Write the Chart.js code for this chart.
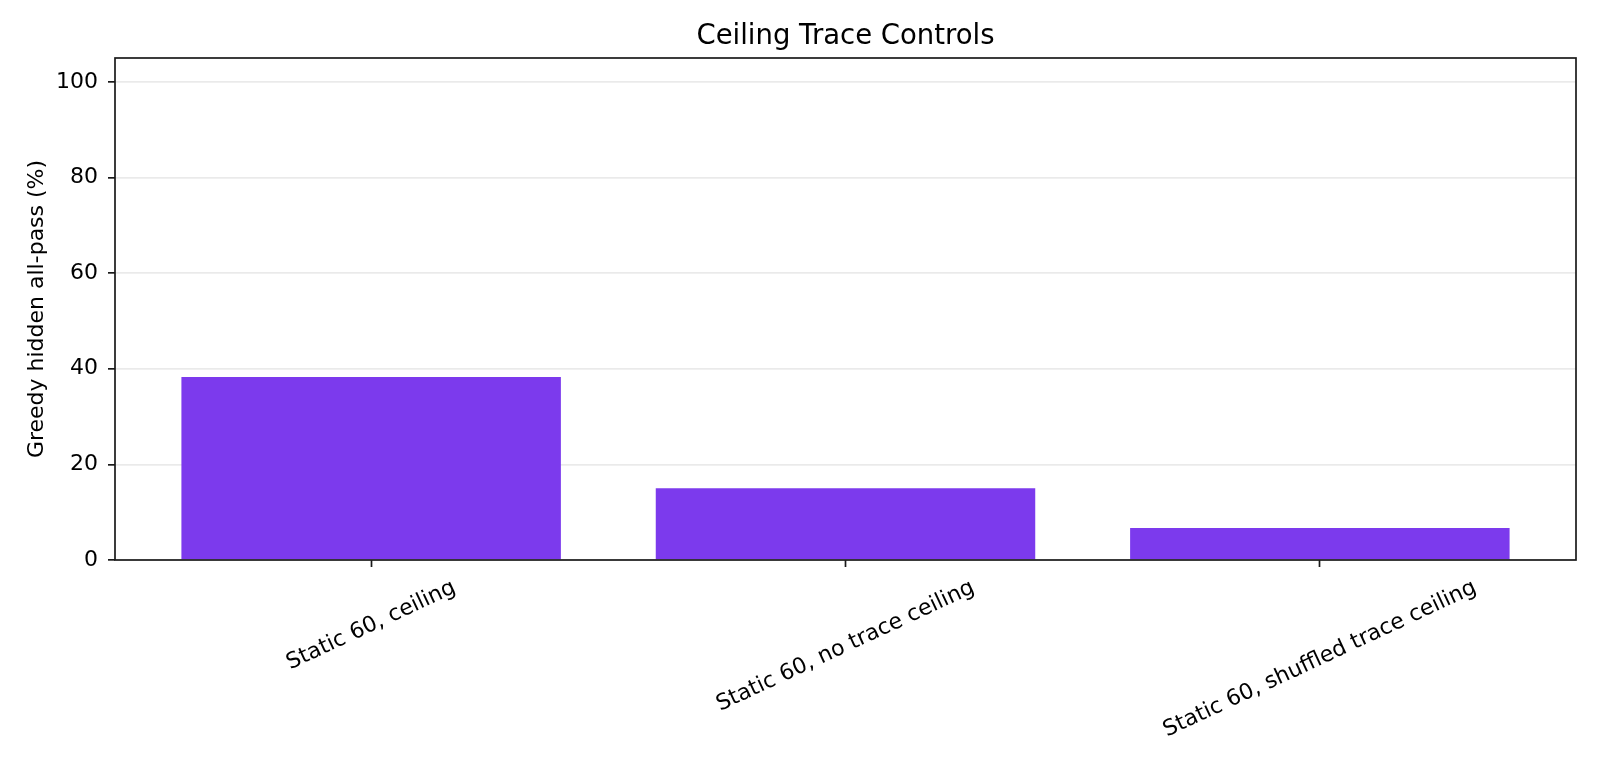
<!DOCTYPE html>
<html>
<head>
<meta charset="utf-8">
<script src="https://cdn.jsdelivr.net/npm/chart.js@4"></script>
<style>
  body { margin: 0; background: #fff; }
  #wrap { width: 1600px; height: 768px; }
</style>
</head>
<body>
<div id="wrap"><canvas id="mycanvas"></canvas></div>
<script>
// chart values
var categories = ["Static 60, ceiling", "Static 60, no trace ceiling", "Static 60, shuffled trace ceiling"];
var passRates = [38.3, 15.0, 6.7];
var yTicks = [0, 20, 40, 60, 80, 100];

var FONT = '"DejaVu Sans", sans-serif';
var TICK_SIZE = 22;

// matplotlib style frame around the plot area
var framePlugin = {
    id: 'frame',
    afterDraw: function(chart) {
        var a = chart.chartArea, ctx = chart.ctx;
        ctx.save();
        ctx.strokeStyle = '#1a1a1a';
        ctx.lineWidth = 1.7;
        ctx.strokeRect(a.left, a.top, a.right - a.left, a.bottom - a.top);
        ctx.restore();
    }
};

// rotated x labels, centred under their ticks
var xLabelPlugin = {
    id: 'xLabels',
    afterDraw: function(chart) {
        var xs = chart.scales.x, ctx = chart.ctx;
        var ang = 25 * Math.PI / 180;
        ctx.save();
        ctx.font = TICK_SIZE + 'px ' + FONT;
        ctx.fillStyle = '#000';
        ctx.textAlign = 'center';
        ctx.textBaseline = 'middle';
        categories.forEach(function(label, i) {
            var px = xs.getPixelForValue(i);
            var w = ctx.measureText(label).width;
            var h = TICK_SIZE * 1.17;
            var bh = w * Math.sin(ang) + h * Math.cos(ang);
            var cy = chart.chartArea.bottom + 15 + bh / 2;
            ctx.save();
            ctx.translate(px, cy);
            ctx.rotate(-ang);
            ctx.fillText(label, 0, 0);
            ctx.restore();
        });
        ctx.restore();
    }
};

var ctx = document.getElementById('mycanvas');
var myChart = new Chart(ctx, {
    type: 'bar',
    data: {
        datasets: [{
            label: 'Greedy hidden all-pass (%)',
            data: categories.map(function(c, i) { return { x: i, y: passRates[i] }; }),
            backgroundColor: '#7c3aed',
            borderWidth: 0,
            categoryPercentage: 0.8,
            barPercentage: 1.0
        }]
    },
    options: {
        responsive: true,
        maintainAspectRatio: false,
        animation: false,
        layout: { padding: { left: 0, right: 24, top: 0, bottom: 0 } },
        plugins: {
            legend: { display: false },
            tooltip: { enabled: false },
            title: {
                display: true,
                fullSize: false,
                text: 'Ceiling Trace Controls',
                color: '#000',
                font: { family: FONT, size: 27.5, weight: 'normal' },
                padding: { top: 20, bottom: 5 }
            }
        },
        scales: {
            x: {
                type: 'linear',
                min: -0.54,
                max: 2.54,
                offset: false,
                afterBuildTicks: function(scale) {
                    scale.ticks = categories.map(function(c, i) { return { value: i }; });
                },
                afterFit: function(scale) { scale.height = 208; },
                ticks: { display: false },
                grid: {
                    offset: false,
                    drawOnChartArea: false,
                    drawTicks: true,
                    tickLength: 7,
                    tickColor: '#1a1a1a',
                    tickWidth: 1.7
                },
                border: { display: false }
            },
            y: {
                min: 0,
                max: 105,
                z: 1,
                afterBuildTicks: function(scale) {
                    scale.ticks = yTicks.map(function(v) { return { value: v }; });
                },
                afterFit: function(scale) { scale.width = 115; },
                ticks: {
                    color: '#000',
                    font: { family: FONT, size: TICK_SIZE },
                    padding: 10
                },
                grid: {
                    color: 'rgba(176,176,176,0.27)',
                    lineWidth: 1.7,
                    tickLength: 7,
                    tickColor: '#1a1a1a',
                    tickWidth: 1.7
                },
                border: { display: false },
                title: {
                    display: true,
                    text: 'Greedy hidden all-pass (%)',
                    color: '#000',
                    font: { family: FONT, size: 22 },
                    padding: { top: 24, bottom: 0 }
                }
            }
        }
    },
    plugins: [framePlugin, xLabelPlugin]
});
</script>
</body>
</html>
